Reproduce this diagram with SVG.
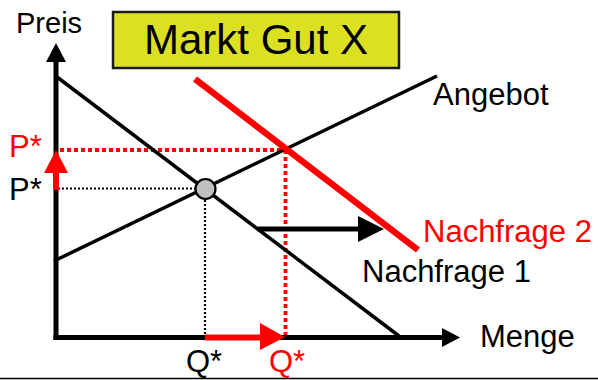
<svg xmlns="http://www.w3.org/2000/svg" width="598" height="380" viewBox="0 0 598 380">
<style>
text{font-family:"Liberation Sans",Arial,sans-serif;font-size:31px;fill:#000}
.red{fill:#FF0000}
.ax{stroke:#000;stroke-width:5;fill:none}
.curve{stroke:#000;stroke-width:3.5;fill:none}
.dotk{stroke:#000;stroke-width:2.2;stroke-dasharray:2 2;fill:none}
.dotr{stroke:#FF0000;stroke-width:3.8;stroke-dasharray:4 3;fill:none}
</style>
<rect width="598" height="380" fill="#fff"/>
<g id="title">
<rect x="113" y="12" width="286" height="56" fill="#DBE022" stroke="#1a1a1a" stroke-width="2.5"/>
<text x="256" y="54" text-anchor="middle" style="font-size:42px">Markt Gut X</text>
</g>
<g id="connectors">
<line class="dotk" x1="58" y1="188.5" x2="200" y2="188.5"/>
<line class="dotk" x1="205" y1="196" x2="205" y2="336"/>
<line class="dotr" x1="60" y1="150" x2="286" y2="150"/>
<line class="dotr" x1="285.5" y1="150" x2="285.5" y2="336"/>
<line class="curve" x1="57" y1="77" x2="399" y2="336"/>
<line class="curve" x1="54" y1="261" x2="437" y2="76"/>
<line x1="195" y1="79" x2="418" y2="250" stroke="#FF0000" stroke-width="6.5"/>
<line class="ax" x1="56" y1="60" x2="56" y2="340"/>
<line class="ax" x1="53.5" y1="337.5" x2="444" y2="337.5"/>
<polygon points="56,43 46,62 66,62" fill="#000"/>
<polygon points="460,337.5 442,328 442,347" fill="#000"/>
<line x1="56" y1="172" x2="56" y2="190" stroke="#FF0000" stroke-width="6"/>
<polygon points="56,150 44,173 68,173" fill="#FF0000"/>
<line x1="205" y1="337.5" x2="262" y2="337.5" stroke="#FF0000" stroke-width="6"/>
<polygon points="285,337 260,323 260,350" fill="#FF0000"/>
<line x1="258" y1="229" x2="360" y2="229" stroke="#000" stroke-width="5"/>
<polygon points="384,229 358,216 358,242" fill="#000"/>
<line x1="0" y1="378.5" x2="598" y2="378.5" stroke="#000" stroke-width="1.5"/>
</g>
<g id="equilibrium">
<circle cx="205.5" cy="189" r="10" fill="#C0C0C0" stroke="#000" stroke-width="2.2"/>
</g>
<g id="labels">
<text x="16" y="33" style="font-size:29px">Preis</text>
<text x="433" y="105">Angebot</text>
<text x="423" y="242" class="red">Nachfrage 2</text>
<text x="362" y="282">Nachfrage 1</text>
<text x="480" y="347">Menge</text>
<text x="9" y="157" class="red">P*</text>
<text x="9" y="200">P*</text>
<text x="186" y="372">Q*</text>
<text x="269" y="372" class="red">Q*</text>
</g>
</svg>
